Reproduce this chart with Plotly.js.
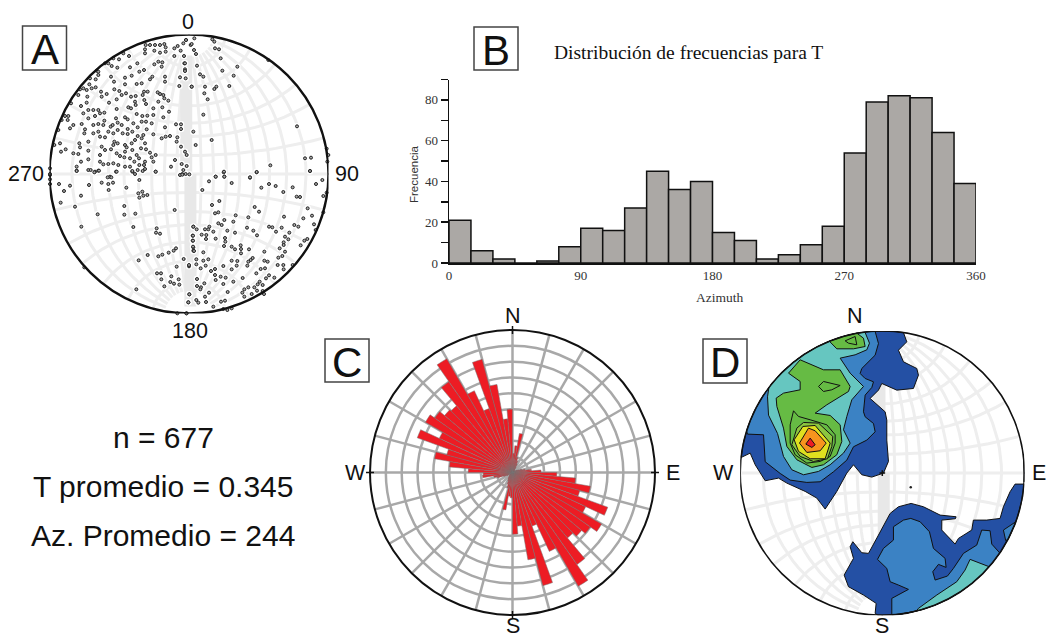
<!DOCTYPE html>
<html>
<head>
<meta charset="utf-8">
<script src="https://cdn.plot.ly/plotly-3.0.1.min.js"></script>
<style>html,body{margin:0;padding:0;background:#fff}#chart{width:1046px;height:639px}</style>
</head>
<body>
<div id="chart"></div>
<script>
// ---------- Panel B: histogram of azimuth ----------
const binCentres = [7.5,22.5,37.5,52.5,67.5,82.5,97.5,112.5,127.5,142.5,157.5,172.5,187.5,202.5,217.5,232.5,247.5,262.5,277.5,292.5,307.5,322.5,337.5,352.5];
const frequencies = [21,6,2,0,1,8,17,16,27,45,36,40,15,11,2,4,9,18,54,79,82,81,64,39];
const xTickVals = [0,90,180,270,360];
const yTickVals = [0,10,20,30,40,50,60,70,80,90];
const yTickText = ['0','','20','','40','','60','','80',''];

// ---------- Panel C: rose diagram (5 degree sectors) ----------
const roseAz = [2.5,7.5,12.5,17.5,22.5,27.5,32.5,37.5,42.5,47.5,52.5,57.5,62.5,67.5,72.5,77.5,82.5,87.5,92.5,97.5,102.5,107.5,112.5,117.5,122.5,127.5,132.5,137.5,142.5,147.5,152.5,157.5,162.5,167.5,172.5,177.5,182.5,187.5,192.5,197.5,202.5,207.5,212.5,217.5,222.5,227.5,232.5,237.5,242.5,247.5,252.5,257.5,262.5,267.5,272.5,277.5,282.5,287.5,292.5,297.5,302.5,307.5,312.5,317.5,322.5,327.5,332.5,337.5,342.5,347.5,352.5,357.5];
const roseLen = [1.2,1.7,2.5,1.0,0.8,0.6,0.4,0.2,0.2,0.1,0.1,0.1,0.3,0.4,0.6,0.8,1.2,1.8,2.8,4.0,5.0,4.4,6.4,5.1,6.5,6.0,5.7,5.4,7.1,8.3,5.5,3.6,7.4,5.6,3.4,3.9,1.6,1.5,2.4,1.0,0.8,0.6,0.5,0.4,0.3,0.2,0.2,0.2,0.4,0.6,1.0,1.2,1.9,1.85,2.8,4.0,5.0,4.3,6.4,5.1,6.35,6.0,5.6,5.5,7.0,8.3,5.7,4.3,7.4,5.65,3.4,4.0];

// ---------- Panel A: T axes, read quadrant by quadrant ----------
const nwPoints = [[302,45],[315,45],[330,45],[345,45],[358,42],[362,52],[300,58],[300,70],[328,62],[345,68],[362,65],[388,55],[398,48],[423,30],[437,45],[415,40],[222,88],[252,78],[235,70],[205,85],[190,100],[180,100],[155,122],[135,145],[115,175],[100,195],[78,220],[60,258],[50,270],[40,300],[28,345],[15,415],[5,430],[15,435],[200,108],[217,113],[255,112],[277,100],[328,103],[340,95],[352,97],[350,110],[388,78],[407,62],[417,78],[418,100],[420,118],[405,142],[403,168],[440,170],[422,145],[160,135],[152,148],[160,125],[198,140],[207,155],[240,143],[260,137],[283,125],[297,120],[315,148],[322,140],[360,140],[360,155],[275,162],[290,160],[208,178],[223,183],[240,163],[133,163],[152,172],[125,180],[140,175],[127,200],[105,178],[108,228],[125,218],[168,185],[170,200],[185,192],[192,218],[215,208],[230,195],[243,190],[258,200],[272,198],[270,215],[297,185],[293,195],[308,185],[298,210],[303,222],[345,192],[338,187],[355,195],[340,215],[358,205],[370,212],[372,245],[115,250],[130,240],[145,240],[160,240],[130,265],[150,258],[165,250],[178,248],[215,237],[250,232],[258,235],[272,225],[325,235],[352,232],[240,262],[248,268],[275,252],[292,258],[307,257],[325,255],[355,262],[70,258],[68,270],[75,295],[85,285],[110,282],[120,298],[145,285],[160,282],[175,285],[178,272],[197,290],[203,285],[213,265],[218,278],[230,285],[248,297],[265,280],[278,292],[290,275],[303,275],[320,280],[360,292],[393,283],[408,283],[408,297],[45,340],[62,358],[48,365],[103,340],[105,352],[130,335],[118,310],[145,310],[160,305],[165,320],[180,322],[190,305],[205,310],[218,300],[233,310],[248,312],[262,305],[278,318],[295,315],[305,298],[325,313],[350,325],[362,320],[375,318],[397,322],[395,335],[408,350],[85,370],[100,372],[130,362],[130,388],[108,395],[170,350],[180,360],[208,335],[205,345],[218,340],[240,345],[245,352],[260,340],[270,330],[290,325],[300,340],[165,375],[198,358],[215,370],[240,365],[262,360],[288,355],[303,358],[315,368],[332,375],[275,375],[282,385],[320,382],[225,378],[238,382],[255,385],[268,395],[300,395],[325,395],[390,390],[420,365],[165,395],[175,403],[190,402],[205,400],[220,405],[240,410],[255,410],[283,405],[297,405],[300,417],[278,420],[262,425],[213,425],[130,420],[150,425],[160,422],[95,410],[95,422],[195,440],[332,425],[378,410],[410,402],[412,432],[433,433],[415,420],[405,435]];
const nePoints = [[28,25],[3,30],[20,42],[82,28],[88,35],[90,55],[102,58],[27,60],[33,72],[107,85],[36,107],[157,110],[112,122],[45,133],[55,140],[146,137],[20,170],[60,170],[94,170],[88,177],[133,168],[58,190],[68,208],[55,254],[336,289],[25,305],[80,330],[32,345],[250,90],[425,356],[427,395],[430,375],[360,385],[378,383],[375,423],[256,406],[215,427],[116,427],[118,440],[92,440],[195,443],[5,408],[5,375],[0,100],[0,123]];
const swPoints = [[95,3],[137,0],[148,7],[162,2],[215,5],[262,3],[270,12],[293,3],[332,5],[412,14],[422,12],[15,12],[15,28],[15,42],[42,42],[75,47],[57,63],[132,45],[170,38],[190,42],[204,38],[188,22],[199,22],[283,30],[244,53],[191,60],[108,77],[280,70],[292,65],[295,77],[307,75],[283,83],[47,98],[90,110],[238,108],[158,133],[238,134],[271,131],[389,120],[109,170],[265,171],[335,175],[333,188],[345,191],[445,170],[443,197],[443,212],[445,232],[445,242],[308,255],[340,259],[352,254],[371,248],[386,242],[393,235],[416,267],[281,271],[395,290],[432,289],[336,310],[348,310],[349,328],[379,319],[401,328],[376,336],[387,341],[403,344],[358,349],[274,358],[433,373],[430,397],[397,430],[410,432],[425,430],[118,292]];
const sePoints = [[92,20],[117,5],[118,20],[195,22],[215,6],[375,3],[72,34],[140,39],[252,42],[229,53],[272,48],[323,52],[393,42],[412,30],[425,68],[415,78],[52,60],[295,66],[335,80],[345,81],[103,93],[81,105],[209,111],[368,115],[222,125],[100,127],[90,130],[415,127],[381,137],[152,136],[190,142],[297,140],[355,145],[118,150],[145,155],[100,160],[110,165],[25,170],[35,178],[60,178],[70,178],[85,185],[73,170],[127,182],[150,188],[186,173],[205,182],[216,196],[252,170],[262,172],[290,173],[273,185],[328,165],[340,170],[387,163],[392,180],[313,188],[300,200],[310,208],[358,212],[367,207],[347,226],[296,217],[296,225],[284,235],[24,197],[24,212],[50,194],[64,195],[63,207],[92,206],[120,204],[121,215],[117,228],[140,230],[150,238],[167,226],[168,237],[168,250],[192,238],[238,245],[24,230],[27,243],[55,247],[300,245],[292,258],[280,263],[203,264],[197,270],[190,275],[140,272],[157,273],[248,275],[238,272],[34,268],[70,268],[55,272],[62,287],[34,283],[47,295],[78,303],[90,297],[115,288],[140,298],[155,287],[187,287],[278,285],[295,285],[296,298],[323,285],[227,297],[240,295],[214,310],[90,315],[92,330],[107,320],[122,323],[145,335],[173,324],[36,327],[252,316],[243,325],[268,323],[224,335],[218,343],[36,348],[48,352],[58,340],[115,342],[233,345],[190,352],[178,358],[208,352],[128,366],[46,358],[72,368],[60,380],[13,373],[172,368],[178,380],[200,372],[216,362],[233,363],[237,372],[34,390],[40,398],[10,397],[63,396],[108,395],[120,392],[85,410],[115,417],[127,420],[140,415],[4,430],[12,285]];

// ---------- Panel D: density contours, lowest level first ----------
const contourColors = {d1:'#2450a4', d2:'#3b82c4', d3:'#66c6c0', d4:'#66bb44', d5:'#8cc63f', d6:'#dfe01f', d7:'#f7941e', d8:'#ed1c24'};
const levelOneNW = [[555,93],[640,97],[650,125],[625,150],[640,185],[680,205],[685,225],[670,265],[620,270],[575,250],[565,270],[540,295],[585,335],[590,360],[590,420],[595,484],[580,519],[545,531],[515,524],[490,494],[470,519],[440,574],[405,627],[380,594],[345,574],[290,549],[265,534],[225,542],[195,494],[180,459],[150,472]];
const levelOneSE = [[555,940],[558,910],[520,885],[475,860],[462,825],[480,790],[490,775],[480,740],[488,725],[515,758],[535,760],[565,705],[600,640],[625,620],[663,610],[700,620],[750,645],[798,650],[796,656],[755,660],[755,690],[795,732],[805,715],[845,690],[850,660],[890,660],[930,655],[940,620],[960,575],[975,552],[1002,552]];
const levelOneE = [[1000,470],[997,510],[995,545],[1002,545]];
const levelTwoNW = [[172,402],[220,404],[225,485],[270,520],[300,540],[350,547],[390,545],[430,515],[470,480],[490,440],[530,420],[555,395],[550,370],[525,350],[520,335],[525,285],[545,262],[550,245],[525,235],[510,220],[515,205],[555,165],[565,130],[555,97],[530,95]];
const levelTwoSE = [[662,655],[690,665],[718,695],[730,745],[765,775],[768,802],[745,793],[728,815],[735,840],[772,828],[790,805],[820,760],[860,735],[875,690],[900,692],[905,732],[928,758],[605,945],[605,895],[655,868],[625,855],[600,845],[590,805],[562,778],[580,745],[610,720],[610,680],[640,660]];
const levelTwoE = [[940,690],[977,665],[947,722]];
const levelThreeNW = [[236,262],[525,97],[538,129],[530,149],[495,164],[450,174],[480,219],[520,259],[485,299],[470,349],[460,389],[480,429],[460,459],[420,494],[385,514],[340,524],[305,509],[280,469],[262,400],[235,345],[232,290]];
const levelThreeSE = [[840,778],[895,798],[630,940],[685,925],[740,885],[800,845],[825,810]];
const levelFour = [[330,179],[400,209],[450,209],[480,259],[475,274],[410,314],[375,339],[420,346],[450,374],[455,424],[440,464],[400,494],[365,502],[320,479],[290,439],[280,384],[260,319],[258,294],[280,279],[330,269],[330,244],[295,219]];
const levelFourTop = [[420,129],[450,112],[500,99],[520,114],[525,139],[490,146],[440,146]];
const levelFiveA = [[310,332],[325,349],[360,359],[410,374],[435,404],[435,429],[420,469],[390,484],[350,489],[315,464],[300,429],[300,374]];
const levelFiveIsland = [[385,259],[400,244],[450,256],[425,269],[400,274]];
const levelFiveTop = [[465,122],[495,109],[500,134],[475,129]];
const levelSix = [[320,384],[340,367],[385,369],[428,409],[425,439],[412,476],[370,484],[330,469],[305,434]];
const levelSeven = [[338,379],[375,376],[420,429],[405,476],[360,476],[325,454],[312,419]];
const levelEight = [[355,384],[375,392],[408,429],[390,452],[350,457],[328,429]];
const levelNine = [[360,414],[375,434],[365,442],[347,432]];

// ---------- Reference net helper (stereographic graticule, not data) ----------
function netTrace(xa, ya){
  const x=[], y=[], d=Math.PI/180;
  const put=(lat,lon)=>{ const k=1/(1+Math.cos(lat*d)*Math.cos(lon*d));
    x.push(k*Math.cos(lat*d)*Math.sin(lon*d)); y.push(k*Math.sin(lat*d)); };
  [-80,-70,-60,-50,-40,-30,-20,-10,10,20,30,40,50,60,70,80].forEach(lon=>{
    for(let lat=-80;lat<=80;lat+=4) put(lat,lon); x.push(null); y.push(null); });
  [-75,-64,-52,-40,-30,-15,0,15,30,40,52,64,75].forEach(lat=>{
    for(let lon=-90;lon<=90;lon+=5) put(lat,lon); x.push(null); y.push(null); });
  return {type:'scatter',mode:'lines',x,y,xaxis:xa,yaxis:ya,hoverinfo:'skip',showlegend:false,
    line:{color:'#eeeeee',width:3}};
}
function bandTrace(xa,ya,xv,y0,y1){
  return {type:'scatter',mode:'lines',x:[xv,xv],y:[y0,y1],xaxis:xa,yaxis:ya,hoverinfo:'skip',showlegend:false,
    line:{color:'#e8e8e8',width:12}};
}
function tickTrace(xa,ya){
  const a=1, b=1.045;
  return {type:'scatter',mode:'lines',xaxis:xa,yaxis:ya,hoverinfo:'skip',showlegend:false,cliponaxis:false,
    x:[0,0,null,0,0,null,a,b,null,-a,-b,null,-0.02,0.02,null,0,0],
    y:[a,b,null,-a,-b,null,0,0,null,0,0,null,0,0,null,-0.02,0.02],
    line:{color:'#111',width:1.5}};
}

// panel A geometry in net units
function quadrant(points, ox, oy){
  return points.map(p=>[(ox+p[0]/3-189)/139.5, (174-(oy+p[1]/3))/139.5]);
}
const allPoints = [].concat(quadrant(nwPoints,45,30),quadrant(nePoints,185,30),quadrant(swPoints,45,170),quadrant(sePoints,185,170));

// panel D: convert picture readings to net units, following the rim between rim points
function contourTrace(poly,color){
  const pts = poly.map(p=>[(p[0]-576.5)/426.5,(519-p[1])/426.5]);
  const x=[],y=[];
  const onRim = p=>Math.hypot(p[0],p[1])>=0.975;
  for(let i=0;i<pts.length;i++){
    const p=pts[i], q=pts[(i+1)%pts.length];
    if(onRim(p)&&onRim(q)){
      let a=Math.atan2(p[1],p[0]), b=Math.atan2(q[1],q[0]), da=b-a;
      while(da>Math.PI) da-=2*Math.PI;
      while(da<-Math.PI) da+=2*Math.PI;
      const n=Math.max(2,Math.ceil(Math.abs(da)/0.02));
      for(let k=0;k<n;k++){ x.push(Math.cos(a+da*k/n)); y.push(Math.sin(a+da*k/n)); }
    } else { x.push(p[0]); y.push(p[1]); }
  }
  x.push(x[0]); y.push(y[0]);
  return {type:'scatter',mode:'lines',x,y,xaxis:'x3',yaxis:'y3',fill:'toself',fillcolor:color,hoverinfo:'skip',
    showlegend:false,line:{color:'#111',width:1}};
}
const c=contourColors;
const contourList = [[levelOneNW,c.d1],[levelOneSE,c.d1],[levelOneE,c.d1],[levelTwoNW,c.d2],[levelTwoSE,c.d2],[levelTwoE,c.d2],[levelThreeNW,c.d3],[levelThreeSE,c.d3],[levelFour,c.d4],[levelFourTop,c.d4],[levelFiveA,c.d4],[levelFiveIsland,c.d4],[levelFiveTop,c.d4],[levelSix,c.d5],[levelSeven,c.d6],[levelEight,c.d7],[levelNine,c.d8]];

const traces = [
  // A
  netTrace('x2','y2'),
  bandTrace('x2','y2',-0.02,0.0,0.85),
  bandTrace('x2','y2',0.01,0.0,-0.95),
  tickTrace('x2','y2'),
  {type:'scatter',mode:'markers',xaxis:'x2',yaxis:'y2',cliponaxis:false,hoverinfo:'skip',showlegend:false,
   x:allPoints.map(p=>p[0]),y:allPoints.map(p=>p[1]),
   marker:{size:6.5,color:'#ffffff'}},
  {type:'scatter',mode:'markers',xaxis:'x2',yaxis:'y2',cliponaxis:false,hoverinfo:'skip',showlegend:false,
   x:allPoints.map(p=>p[0]),y:allPoints.map(p=>p[1]),
   marker:{size:3,color:'#aaaaaa',line:{color:'#222',width:1}}},
  // B
  {type:'bar',x:binCentres,y:frequencies,width:15,hoverinfo:'skip',showlegend:false,
   marker:{color:'#aba8a5',line:{color:'#111',width:1.5}}},
  // C
  {type:'barpolar',subplot:'polar',theta:roseAz,r:roseLen,width:5,hoverinfo:'skip',showlegend:false,
   marker:{color:'#ed1c24',line:{color:'#777',width:0.5}}},
  // D
  netTrace('x3','y3'),
  bandTrace('x3','y3',-0.02,0.0,0.65),
  bandTrace('x3','y3',0.01,0.0,-0.45),
].concat(contourList.map(e=>contourTrace(e[0],e[1]))).concat([
  tickTrace('x3','y3'),
  {type:'scatter',mode:'markers',xaxis:'x3',yaxis:'y3',hoverinfo:'skip',showlegend:false,
   x:[0.2],y:[-0.1],marker:{size:2.5,color:'#222'}}
]);

const px = x=>x/1046, py = y=>1-y/639;
function label(text,x,y,size,family,extra){
  return Object.assign({text,x:px(x),y:py(y),xref:'paper',yref:'paper',showarrow:false,xanchor:'center',yanchor:'middle',
    font:{family:family||'Liberation Sans',size:size,color:'#111'}},extra||{});
}
function box(x0,y0,x1,y1){
  return {type:'rect',xref:'paper',yref:'paper',x0:px(x0),x1:px(x1),y0:py(y0),y1:py(y1),line:{color:'#444',width:1.5},fillcolor:'#fff'};
}
function rim(xa,ya,w){
  return {type:'circle',xref:xa,yref:ya,x0:-1,x1:1,y0:-1,y1:1,line:{color:'#111',width:w}};
}
function cardinal(x0,y0,x1,y1){
  return {type:'line',xref:'paper',yref:'paper',x0:px(x0),x1:px(x1),y0:py(y0),y1:py(y1),line:{color:'#111',width:1.5}};
}
const hidden = {visible:false,fixedrange:true};
const layout = {
  width:1046,height:639,margin:{l:0,r:0,t:0,b:0},paper_bgcolor:'#fff',plot_bgcolor:'rgba(0,0,0,0)',
  showlegend:false,bargap:0,
  xaxis:{domain:[px(449),px(976)],range:[0,360],tickmode:'array',tickvals:xTickVals,ticks:'',showgrid:false,zeroline:false,
    showline:true,linecolor:'#111',linewidth:1.5,tickfont:{family:'Liberation Serif',size:13,color:'#333'},
    anchor:'y'},
  yaxis:{domain:[py(263),py(79.5)],range:[0,90],tickmode:'array',tickvals:yTickVals,ticktext:yTickText,ticks:'outside',ticklen:7,tickwidth:1.5,tickcolor:'#111',
    showgrid:false,zeroline:false,showline:true,linecolor:'#111',linewidth:1.5,tickfont:{family:'Liberation Serif',size:13,color:'#333'},
    anchor:'x'},
  xaxis2:Object.assign({domain:[px(49.5),px(328.5)],range:[-1,1],anchor:'y2'},hidden),
  yaxis2:Object.assign({domain:[py(313.5),py(34.5)],range:[-1,1],anchor:'x2'},hidden),
  xaxis3:Object.assign({domain:[px(740.2),px(1024.4)],range:[-1,1],anchor:'y3'},hidden),
  yaxis3:Object.assign({domain:[py(615.2),py(331)],range:[-1,1],anchor:'x3'},hidden),
  polar:{domain:{x:[px(370),px(655)],y:[py(615),py(330)]},bgcolor:'#fff',barmode:'overlay',
    radialaxis:{range:[0,9],dtick:1,showticklabels:false,ticks:'',showline:false,gridcolor:'#a8a8a8',gridwidth:2.5},
    angularaxis:{direction:'clockwise',rotation:90,dtick:15,showticklabels:false,ticks:'',gridcolor:'#a8a8a8',gridwidth:2.5,linecolor:'#111',linewidth:2}},
  shapes:[
    rim('x2','y2',2.4),rim('x3','y3',1.6),
    box(22.5,26,66.5,70),box(474,27,518,70),box(325,339,369,382),box(703,339,747,383),
    cardinal(512.5,326,512.5,334),cardinal(512.5,611,512.5,619),cardinal(366,472.5,374,472.5),cardinal(651,472.5,659,472.5)
  ],
  annotations:[
    label('A',44.5,49,42),label('B',496,50,42),label('C',347,362,42),label('D',725,362,42),
    label('0',188,22,21.5),label('270',26,174,21.5),label('90',347,174,21.5),label('180',190,331,21.5),
    label('N',513,316,21.5),label('S',513,626,21.5),label('W',355,473,21.5),label('E',673,473,21.5),
    label('N',855,316,21.5),label('S',882,626,21.5),label('W',723,473,21.5),label('E',1039,473,21.5),
    label('Distribución de frecuencias para T',688,53,19.5,'Liberation Serif'),
    label('Azimuth',719,297,13.5,'Liberation Serif',{font:{family:'Liberation Serif',size:13.5,color:'#333'}}),
    label('Frecuencia',414,175,11.5,'Liberation Sans',{textangle:-90,font:{family:'Liberation Sans',size:11.5,color:'#333'}}),
    label('n = 677',163,437,30),label('T promedio = 0.345',163,486,30),label('Az. Promedio = 244',163,535,30)
  ]
};
Plotly.newPlot('chart',traces,layout,{displayModeBar:false,staticPlot:true});
</script>
</body>
</html>
